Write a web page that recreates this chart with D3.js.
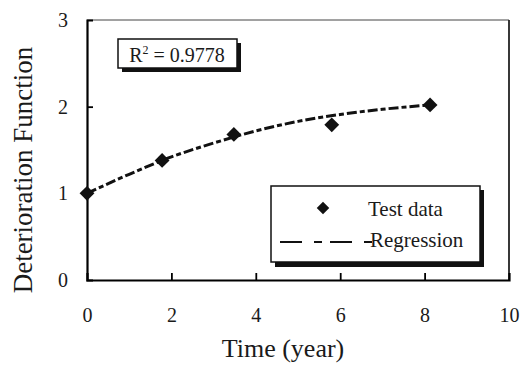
<!DOCTYPE html>
<html><head><meta charset="utf-8">
<script src="https://cdn.jsdelivr.net/npm/d3@7"></script>
<style>
body{margin:0;background:#fff;}
svg text{font-family:"Liberation Serif","Times New Roman",serif;fill:#1a1a1a;}
</style></head>
<body><svg id="c" width="520" height="365"></svg>
<script>
const testX = [0, 1.78, 3.48, 5.8, 8.13];
const testY = [1.0, 1.38, 1.68, 1.79, 2.02];
const regX = [0, 1, 2, 3, 4, 5, 6, 7, 8.13];
const regY = [1.0, 1.22, 1.42, 1.58, 1.72, 1.83, 1.91, 1.97, 2.02];
const xTicks = [0, 2, 4, 6, 8, 10];
const yTicks = [0, 1, 2, 3];
const r2Label = "R";
const r2Value = " = 0.9778";
const legendLabels = ["Test data", "Regression"];

const svg = d3.select("#c");
const x = d3.scaleLinear().domain([0, 10]).range([87, 509]);
const y = d3.scaleLinear().domain([0, 3]).range([280, 20]);

// frame top/right
svg.append("line").attr("x1", x(0)).attr("x2", x(10)).attr("y1", y(3)).attr("y2", y(3)).attr("stroke", "#444").attr("stroke-width", 1);
svg.append("line").attr("x1", x(10)).attr("x2", x(10)).attr("y1", y(3)).attr("y2", y(0)).attr("stroke", "#222").attr("stroke-width", 1.8);

// axes
const xAxis = svg.append("g").attr("transform", `translate(0,${y(0)})`)
  .call(d3.axisBottom(x).tickValues(xTicks).tickSize(-7).tickPadding(28).tickFormat(d3.format("d")));
const yAxis = svg.append("g").attr("transform", `translate(${x(0)},0)`)
  .call(d3.axisLeft(y).tickValues(yTicks).tickSize(-6).tickPadding(19).tickFormat(d3.format("d")));
[xAxis, yAxis].forEach(g => {
  g.select(".domain").attr("stroke", "#000").attr("stroke-width", 2.2);
  g.selectAll(".tick line").attr("stroke", "#000").attr("stroke-width", 1.8);
  g.selectAll(".tick text").style("font-size", "20px").attr("fill", "#222");
});
xAxis.selectAll(".tick").filter(d => d === 0 || d === 10).select("line").remove();
yAxis.selectAll(".tick").filter(d => d === 0 || d === 3).select("line").remove();

// regression line
const line = d3.line().x(d => x(d[0])).y(d => y(d[1])).curve(d3.curveMonotoneX);
svg.append("path").datum(regX.map((v, i) => [v, regY[i]]))
  .attr("d", line).attr("fill", "none").attr("stroke", "#111")
  .attr("stroke-width", 3).attr("stroke-dasharray", "10,3,5,3");

// test data
const diamond = d3.symbol().type(d3.symbolDiamond2).size(140);
svg.selectAll(".pt").data(testX.map((v, i) => [v, testY[i]])).join("path")
  .attr("transform", d => `translate(${x(d[0])},${y(d[1])})`)
  .attr("d", diamond).attr("fill", "#111");

// R^2 box
svg.append("rect").attr("x", 122).attr("y", 43).attr("width", 119).attr("height", 29).attr("fill", "#111");
svg.append("rect").attr("x", 118).attr("y", 39).attr("width", 119).attr("height", 29).attr("fill", "#fff").attr("stroke", "#111").attr("stroke-width", 1.5);
const rt = svg.append("text").attr("x", 177).attr("y", 62).attr("text-anchor", "middle").style("font-size", "20px");
rt.append("tspan").text(r2Label);
rt.append("tspan").text("2").attr("dy", -8).style("font-size", "12px");
rt.append("tspan").text(r2Value).attr("dy", 8);

// legend
svg.append("rect").attr("x", 275).attr("y", 190).attr("width", 209).attr("height", 77).attr("fill", "#111");
svg.append("rect").attr("x", 271).attr("y", 186).attr("width", 209).attr("height", 76).attr("fill", "#fff").attr("stroke", "#111").attr("stroke-width", 1.5);
svg.append("path").attr("transform", "translate(323,208)").attr("d", d3.symbol().type(d3.symbolDiamond2).size(100)).attr("fill", "#111");
svg.append("text").attr("x", 368).attr("y", 216).style("font-size", "21px").text(legendLabels[0]);
svg.append("line").attr("x1", 280).attr("x2", 372).attr("y1", 242).attr("y2", 242)
  .attr("stroke", "#111").attr("stroke-width", 1.8).attr("stroke-dasharray", "22,12,8,8");
svg.append("text").attr("x", 370).attr("y", 247).style("font-size", "21px").text(legendLabels[1]);

// axis titles
svg.append("text").attr("x", 283).attr("y", 357).attr("text-anchor", "middle").style("font-size", "26px").text("Time (year)");
svg.append("text").attr("transform", "translate(32,170) rotate(-90)").attr("text-anchor", "middle").style("font-size", "27px").text("Deterioration Function");
</script></body></html>
